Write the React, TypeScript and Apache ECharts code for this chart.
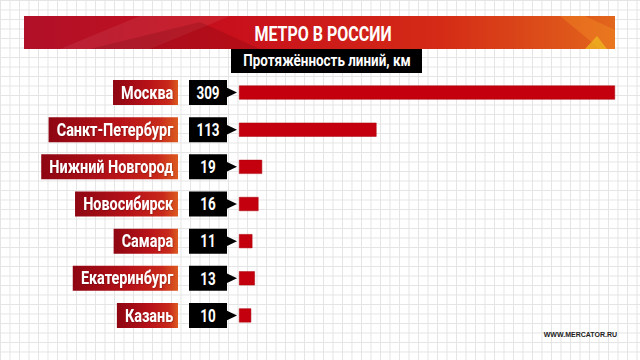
import React, { useEffect, useRef } from "react";
import * as echarts from "echarts";

const cities = ["Москва", "Санкт-Петербург", "Нижний Новгород", "Новосибирск", "Самара", "Екатеринбург", "Казань"];
const lengthsKm = [309, 113, 19, 16, 11, 13, 10];
const titleText = "МЕТРО В РОССИИ";
const subtitleText = "Протяжённость линий, км";
const sourceText = "WWW.MERCATOR.RU";

const FONT = "Roboto, 'Liberation Sans', sans-serif";

export default function App() {
  const ref = useRef<HTMLDivElement>(null);
  useEffect(() => {
    if (!ref.current) return;
    const chart = echarts.init(ref.current, null, { renderer: "svg" });
    const cityGrad = new echarts.graphic.LinearGradient(0, 0, 1, 0, [
      { offset: 0, color: "#8e0612" },
      { offset: 0.55, color: "#b81218" },
      { offset: 0.85, color: "#c8281a" },
      { offset: 1, color: "#dc5a20" },
    ]);
    const bannerGrad = new echarts.graphic.LinearGradient(0, 0, 1, 0, [
      { offset: 0, color: "#b01028" },
      { offset: 0.35, color: "#c8101c" },
      { offset: 0.7, color: "#d42a16" },
      { offset: 1, color: "#e2661c" },
    ]);
    chart.setOption({
      animation: false,
      backgroundColor: "transparent",
      grid: { left: 239, right: 25, top: 74, bottom: 26 },
      xAxis: { type: "value", min: 0, max: 309, show: false },
      yAxis: { type: "category", data: cities, inverse: true, show: false },
      graphic: [
        { type: "rect", shape: { x: 24, y: 16, width: 591, height: 33 }, style: { fill: bannerGrad } },
        { type: "polygon", shape: { points: [[60, 49], [140, 16], [230, 16], [150, 49]] }, style: { fill: "rgba(255,255,255,0.07)" } },
        { type: "polygon", shape: { points: [[90, 49], [200, 22], [260, 49]] }, style: { fill: "rgba(90,0,10,0.18)" } },
        { type: "polygon", shape: { points: [[560, 16], [600, 49], [615, 49], [615, 30], [585, 16]] }, style: { fill: "rgba(255,170,40,0.25)" } },
        { type: "polygon", shape: { points: [[585, 49], [597, 36], [607, 49]] }, style: { fill: "rgba(240,190,30,0.7)" } },
        {
          type: "text", x: 323, y: 34, scaleX: 0.8,
          style: { text: titleText, fill: "#ffffff", font: `bold 20px ${FONT}`, align: "center", verticalAlign: "middle" },
        },
        { type: "rect", shape: { x: 231, y: 49, width: 191, height: 24 }, style: { fill: "#000000" } },
        {
          type: "text", x: 327, y: 61, scaleX: 0.84,
          style: { text: subtitleText, fill: "#ffffff", font: `bold 16px ${FONT}`, align: "center", verticalAlign: "middle" },
        },
        {
          type: "text", x: 617, y: 334,
          style: { text: sourceText, fill: "#222222", font: `bold 7px 'Liberation Sans', Arial, sans-serif`, align: "right", verticalAlign: "middle" },
        },
      ],
      series: [
        {
          type: "bar",
          data: lengthsKm,
          barWidth: 14,
          itemStyle: { color: "#c4000e", borderColor: "#a8000a", borderWidth: 0.5 },
          silent: true,
        },
        {
          type: "custom",
          data: lengthsKm.map((v, i) => [v, i]),
          encode: { x: 0, y: 1 },
          silent: true,
          clip: false,
          renderItem: (params: any, api: any) => {
            const idx = api.value(1);
            const val = api.value(0);
            const p = api.coord([0, idx]);
            const x0 = p[0];
            const y = p[1];
            return {
              type: "group",
              children: [
                {
                  type: "text",
                  x: x0 - 61,
                  y: y,
                  scaleX: 0.8,
                  style: {
                    text: cities[idx],
                    fill: "#ffffff",
                    font: `bold 18px ${FONT}`,
                    align: "right",
                    verticalAlign: "middle",
                    backgroundColor: cityGrad,
                    padding: [4, 6, 4, 10],
                    lineHeight: 17,
                    textShadowColor: "rgba(0,0,0,0.35)",
                    textShadowBlur: 1,
                    textShadowOffsetX: 0.5,
                    textShadowOffsetY: 0.5,
                  },
                },
                { type: "rect", shape: { x: x0 - 50, y: y - 12.5, width: 38, height: 25 }, style: { fill: "#000000" } },
                { type: "polygon", shape: { points: [[x0 - 12.5, y - 5], [x0 - 2, y], [x0 - 12.5, y + 5]] }, style: { fill: "#000000" } },
                {
                  type: "text",
                  x: x0 - 31,
                  y: y,
                  scaleX: 0.75,
                  style: { text: String(val), fill: "#ffffff", font: `bold 18px ${FONT}`, align: "center", verticalAlign: "middle" },
                },
              ],
            };
          },
        },
      ],
    });
    return () => chart.dispose();
  }, []);
  return (
    <div
      ref={ref}
      style={{
        position: "fixed",
        left: 0,
        top: 0,
        width: 640,
        height: 360,
        backgroundColor: "#ffffff",
        backgroundImage:
          "linear-gradient(to right, #e4e4e4 1px, transparent 1px), linear-gradient(to bottom, #e4e4e4 1px, transparent 1px)",
        backgroundSize: "9.5px 9.5px",
      }}
    />
  );
}
